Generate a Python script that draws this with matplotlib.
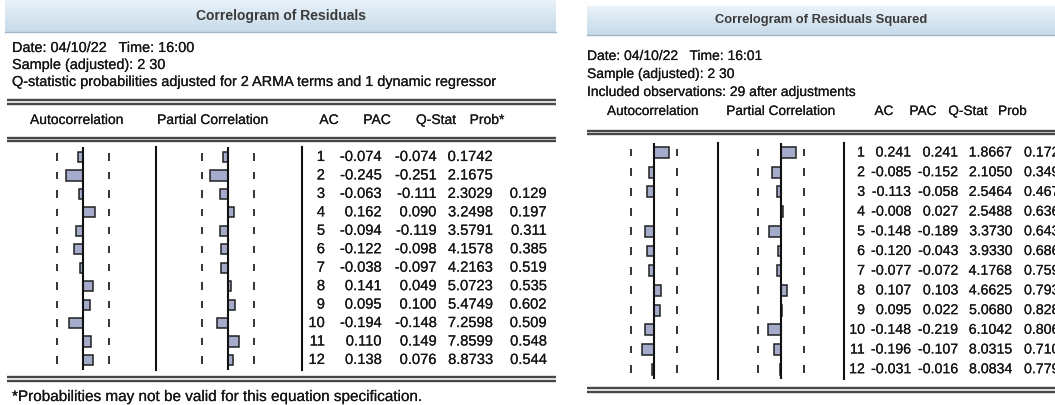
import numpy as np
import matplotlib
matplotlib.use("Agg")
import matplotlib.pyplot as plt
import matplotlib.patheffects as pe

plt.rcParams["font.family"] = ["Liberation Sans", "DejaVu Sans"]

# ---- data -----------------------------------------------------------------
LAGS = np.arange(1, 13)
NOBS = 29

AC1 = [-0.074, -0.245, -0.063, 0.162, -0.094, -0.122, -0.038, 0.141, 0.095, -0.194, 0.110, 0.138]
PAC1 = [-0.074, -0.251, -0.111, 0.090, -0.119, -0.098, -0.097, 0.049, 0.100, -0.148, 0.149, 0.076]
Q1 = ["0.1742", "2.1675", "2.3029", "3.2498", "3.5791", "4.1578", "4.2163", "5.0723", "5.4749",
      "7.2598", "7.8599", "8.8733"]
P1 = ["", "", "0.129", "0.197", "0.311", "0.385", "0.519", "0.535", "0.602", "0.509", "0.548", "0.544"]

AC2 = [0.241, -0.085, -0.113, -0.008, -0.148, -0.120, -0.077, 0.107, 0.095, -0.148, -0.196, -0.031]
PAC2 = [0.241, -0.152, -0.058, 0.027, -0.189, -0.043, -0.072, 0.103, 0.022, -0.219, -0.107, -0.016]
Q2 = ["1.8667", "2.1050", "2.5464", "2.5488", "3.3730", "3.9330", "4.1768", "4.6625", "5.0680",
      "6.1042", "8.0315", "8.0834"]
P2 = ["0.172", "0.349", "0.467", "0.636", "0.643", "0.686", "0.759", "0.793", "0.828", "0.806",
      "0.710", "0.779"]

TITLE1 = "Correlogram of Residuals"
TITLE2 = "Correlogram of Residuals Squared"
INFO1 = ["Date: 04/10/22   Time: 16:00", "Sample (adjusted): 2 30",
         "Q-statistic probabilities adjusted for 2 ARMA terms and 1 dynamic regressor"]
INFO2 = ["Date: 04/10/22   Time: 16:01", "Sample (adjusted): 2 30",
         "Included observations: 29 after adjustments"]
HEAD1 = ["Autocorrelation", "Partial Correlation", "AC", "PAC", "Q-Stat", "Prob*"]
HEAD2 = ["Autocorrelation", "Partial Correlation", "AC", "PAC", "Q-Stat", "Prob"]
FOOT1 = "*Probabilities may not be valid for this equation specification."

W, H = 1055, 405
BAR = "#a4abcb"
INK = "#151515"
LINE = "#474747"
BOUND = 2 / np.sqrt(NOBS)
HEAVY = [pe.withStroke(linewidth=0.12, foreground=INK)]

fig = plt.figure(figsize=(W / 100, H / 100), dpi=100)
bg = fig.add_axes([0, 0, 1, 1])
bg.set_xlim(0, W); bg.set_ylim(H, 0); bg.axis("off")


def txt(x, y, s, size, ha="left", **kw):
    return bg.text(x, y, s, ha=ha, va="center", fontsize=size, color=INK, path_effects=HEAVY, **kw)


def px_axes(x0, x1, y0, y1):
    a = fig.add_axes([x0 / W, 1 - y1 / H, (x1 - x0) / W, (y1 - y0) / H])
    a.axis("off")
    return a


def title_bar(x0, x1, y0, y1, text, size):
    grad = np.linspace(0, 1, 50)[:, None]
    cmap = matplotlib.colors.LinearSegmentedColormap.from_list("tb", ["#e9f2f8", "#c6dae9"])
    bg.imshow(grad, extent=(x0, x1, y1, y0), aspect="auto", cmap=cmap, zorder=0)
    bg.plot([x0, x1], [y1, y1], color="#9fb7ca", lw=1)
    bg.text((x0 + x1) / 2, (y0 + y1) / 2, text, ha="center", va="center", fontsize=size,
            fontweight="bold", color="#3a3a3a")


def double_line(x0, x1, y):
    bg.plot([x0, x1], [y, y], color=LINE, lw=1.7, solid_capstyle="butt")
    bg.plot([x0, x1], [y + 3.8, y + 3.8], color=LINE, lw=1.7, solid_capstyle="butt")


def corr_panel(vals, zero_px, scale, row1, step, top, bottom, x0, x1):
    a = px_axes(x0, x1, top, bottom)
    a.set_xlim((x0 - zero_px) / scale, (x1 - zero_px) / scale)
    a.set_ylim(1 + (bottom - row1) / step, 1 - (row1 - top) / step)
    a.barh(LAGS, vals, height=0.55, color=BAR, edgecolor="#202020", lw=1.1, zorder=2)
    a.axvline(0, color="#111111", lw=1.5, zorder=3)
    for s in (-1, 1):
        a.vlines(np.full(len(LAGS), s * BOUND), LAGS - 0.2, LAGS + 0.2, color="#333333", lw=1.4)
    return a


def table(lagx, cols, rows_vals, row1, step, size, prob_left=None):
    for i, lag in enumerate(LAGS):
        y = row1 + (lag - 1) * step
        txt(lagx, y, str(lag), size, ha="right")
        for cx, v in zip(cols, rows_vals):
            txt(cx, y, v[i], size, ha="right")
        if prob_left is not None:
            txt(prob_left[0], y, prob_left[1][i], size)


fmt = lambda v: [f"{x:.3f}" for x in v]

# ---- left: residuals ------------------------------------------------------
title_bar(5, 556, 0, 32, TITLE1, 10)
for k, s in enumerate(INFO1):
    txt(12, 48 + k * 17, s, 10.4)
double_line(7, 556, 100)
for x, s in zip([77, 213, 329, 377, 436, 487], HEAD1):
    txt(x, 120, s, 10, ha="center")
double_line(7, 556, 137.5)

r1, st1, t1, b1 = 157, 18.45, 147, 370
corr_panel(AC1, 83, 71, r1, st1, t1, b1, 20, 150)
corr_panel(PAC1, 228, 71, r1, st1, t1, b1, 162, 295)
bg.plot([156, 156], [t1, b1], color="#111111", lw=1.5)
bg.plot([302, 302], [t1, b1], color="#111111", lw=1.5)
table(325, [382, 437, 493, 547], [fmt(AC1), fmt(PAC1), Q1, P1], r1, st1, 10.6)
double_line(7, 556, 377)
txt(12, 397, FOOT1, 11)

# ---- right: residuals squared ---------------------------------------------
title_bar(587, W, 6, 35, TITLE2, 9.3)
for k, s in enumerate(INFO2):
    txt(587, 56 + k * 18, s, 10)
for x, s in zip([653, 781, 884, 923, 968], HEAD2[:5]):
    txt(x, 111, s, 9.8, ha="center")
txt(998, 111, HEAD2[5], 9.8)
double_line(587, W, 130.5)

r2, st2, t2, b2 = 152.5, 19.7, 143, 379
corr_panel(AC2, 654, 61, r2, st2, t2, b2, 595, 712)
corr_panel(PAC2, 781, 61, r2, st2, t2, b2, 724, 838)
bg.plot([718, 718], [t2, b2], color="#111111", lw=1.5)
bg.plot([844, 844], [t2, b2], color="#111111", lw=1.5)
table(865, [911, 958, 1012], [fmt(AC2), fmt(PAC2), Q2], r2, st2, 10.2, prob_left=(1024, P2))
double_line(587, W, 388)

fig.savefig("out.png", dpi=100)
